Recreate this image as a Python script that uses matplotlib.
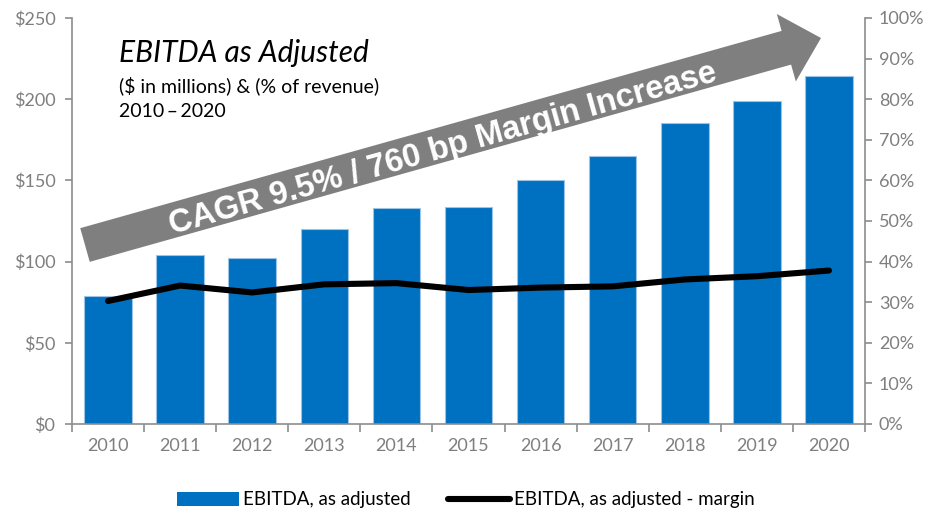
import numpy as np
import matplotlib.pyplot as plt
from matplotlib.patches import Polygon, Patch
from matplotlib.lines import Line2D

years = ['2010', '2011', '2012', '2013', '2014', '2015', '2016', '2017', '2018', '2019', '2020']
ebitda = [79, 104, 102, 120, 133, 133.5, 150.5, 165, 185.5, 199, 214.5]
margin = [30.3, 34.1, 32.4, 34.4, 34.7, 33.0, 33.6, 33.9, 35.6, 36.4, 37.8]

BLUE = '#0070C0'
GRAY = '#7F7F7F'
AXGRAY = '#8C8C8C'
W, H = 933, 513

plt.rcParams['font.family'] = ['Lato', 'DejaVu Sans']

fig = plt.figure(figsize=(W / 100, H / 100), dpi=100)
ax = fig.add_axes([72 / W, 1 - 424 / H, (865 - 72) / W, (424 - 18) / H])
ax2 = ax.twinx()

x = np.arange(len(years))
ax.bar(x, ebitda, width=0.66, color=BLUE, edgecolor='#9DC3E6', linewidth=0.8, zorder=2)
ax2.plot(x, margin, color='black', linewidth=4.4, solid_capstyle='round', zorder=3)

ax.set_xlim(-0.5, len(years) - 0.5)
ax.set_ylim(0, 250)
ax2.set_ylim(0, 100)
ax.set_yticks(range(0, 251, 50))
ax.set_yticklabels(['$%d' % v for v in range(0, 251, 50)])
ax2.set_yticks(range(0, 101, 10))
ax2.set_yticklabels(['%d%%' % v for v in range(0, 101, 10)])
ax.set_xticks(x)
ax.set_xticklabels(years)
ax.set_xticks(np.arange(-0.5, len(years)), minor=True)

for a in (ax, ax2):
    a.spines['top'].set_visible(False)
    for s in ('left', 'right', 'bottom'):
        a.spines[s].set_color(AXGRAY)
        a.spines[s].set_linewidth(1.2)
    a.tick_params(colors=AXGRAY, labelcolor='#7F7F7F', labelsize=13, width=1.2, length=5)
ax.spines['right'].set_visible(False)
ax2.spines['left'].set_visible(False)
ax2.spines['bottom'].set_visible(False)
ax.tick_params(axis='x', which='major', length=0, pad=10)
ax.tick_params(axis='x', which='minor', length=6, width=1.2, color=AXGRAY)
ax.tick_params(axis='y', pad=7)
ax2.tick_params(axis='y', pad=5)


def px(pt):
    return (pt[0] / W, 1 - pt[1] / H)


# big gray arrow
T = np.array([85.0, 245.0])
P = np.array([821.0, 38.0])
u = (P - T) / np.linalg.norm(P - T)
n = np.array([u[1], -u[0]])
B = P - u * 36
verts = [T + n * 17.5, B + n * 17.5, B + n * 35, P, B - n * 35, B - n * 17.5, T - n * 17.5]
fig.add_artist(Polygon([px(v) for v in verts], closed=True, facecolor=GRAY, edgecolor='none',
                       transform=fig.transFigure, zorder=5))
ang = np.degrees(np.arctan2(-u[1], u[0]))
c = (T + P) / 2 - n * 5 - u * 12
fig.text(*px(c), 'CAGR 9.5% / 760 bp Margin Increase', rotation=ang, rotation_mode='anchor',
         ha='center', va='center', color='white', fontsize=23.5, fontweight='bold',
         family='Liberation Sans', zorder=6)

fig.text(*px((119, 62)), 'EBITDA as Adjusted', fontsize=21.5, style='italic', color='black')
fig.text(*px((119, 92)), '($ in millions) & (% of revenue)', fontsize=14, color='black')
fig.text(*px((119, 117)), '2010\u2009\u2013\u20092020', fontsize=14, color='black')

handles = [Patch(facecolor=BLUE, edgecolor='none'),
           Line2D([], [], color='black', linewidth=4.4, solid_capstyle='round')]
fig.legend(handles, ['EBITDA, as adjusted', 'EBITDA, as adjusted - margin'],
           loc='center', bbox_to_anchor=(466 / W, 1 - 500 / H), ncol=2, frameon=False,
           fontsize=13.5, handlelength=3.3, handleheight=0.8, handletextpad=0.2, columnspacing=2.0)

fig.savefig('out.png', dpi=100)
